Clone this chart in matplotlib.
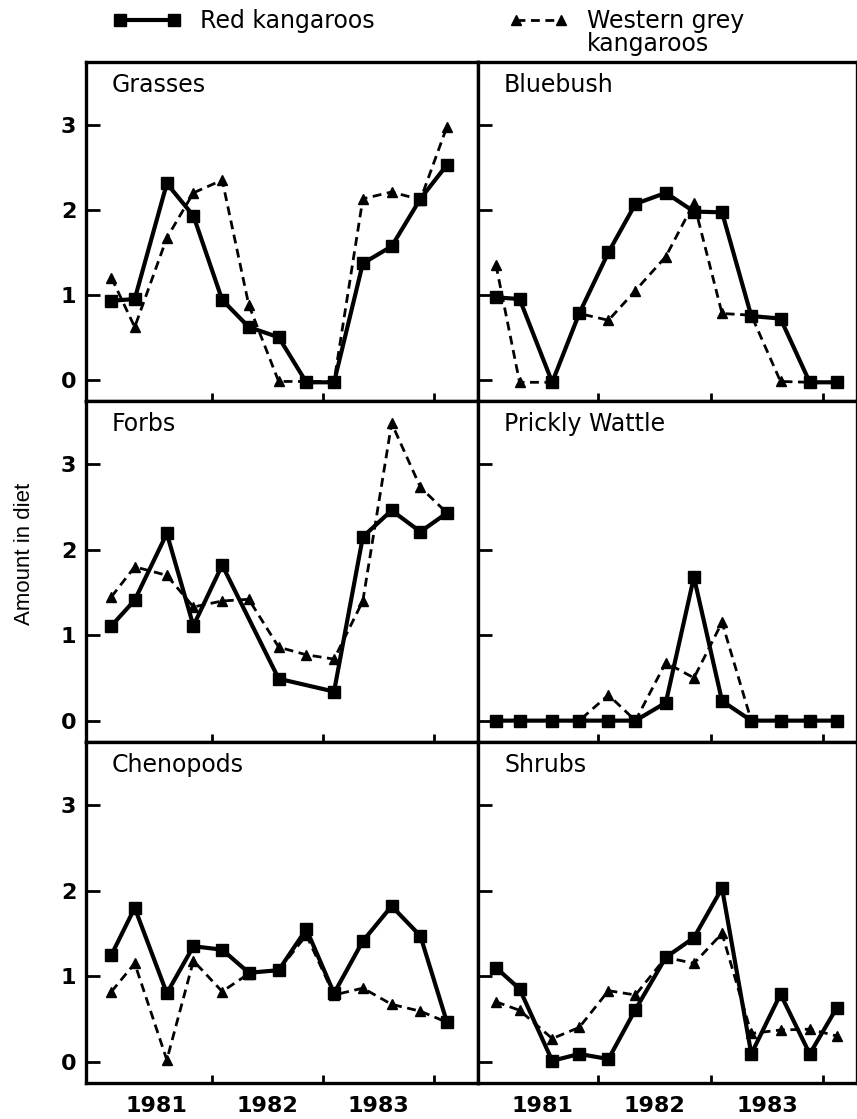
import numpy as np
import matplotlib
matplotlib.use("Agg")
import matplotlib.pyplot as plt
from matplotlib.ticker import FixedLocator, FixedFormatter, NullFormatter

plt.rcParams["font.family"] = ["DejaVu Sans"]

# sampling dates (decimal year), shared by all panels
dates = [1981.09, 1981.30, 1981.59, 1981.83, 1982.09, 1982.33, 1982.60,
         1982.85, 1983.10, 1983.36, 1983.62, 1983.88, 1984.12]
nan = np.nan

grasses_red = [0.93, 0.95, 2.31, 1.93, 0.94, 0.62, 0.50, -0.03, -0.03, 1.37, 1.57, 2.13, 2.53]
grasses_grey = [1.20, 0.62, 1.67, 2.20, 2.35, 0.88, -0.02, -0.02, -0.02, 2.13, 2.21, 2.12, 2.98]

bluebush_red = [0.97, 0.95, -0.03, 0.78, 1.50, 2.07, 2.20, 1.98, 1.97, 0.75, 0.72, -0.03, -0.03]
bluebush_grey = [1.35, -0.03, -0.03, 0.78, 0.70, 1.05, 1.45, 2.08, 0.78, 0.76, -0.02, -0.03, -0.03]

forbs_red = [1.11, 1.41, 2.19, 1.11, 1.82, nan, 0.49, nan, 0.34, 2.15, 2.46, 2.21, 2.43]
forbs_grey = [1.45, 1.80, 1.70, 1.33, 1.40, 1.42, 0.86, 0.77, 0.72, 1.40, 3.48, 2.73, 2.43]

wattle_red = [0, 0, 0, 0, 0, 0, 0.21, 1.68, 0.23, 0, 0, 0, 0]
wattle_grey = [0, 0, 0, 0, 0.30, 0, 0.68, 0.50, 1.15, 0, 0, 0, 0]

cheno_red = [1.25, 1.80, 0.80, 1.35, 1.31, 1.04, 1.07, 1.55, 0.80, 1.41, 1.82, 1.47, 0.46]
cheno_grey = [0.82, 1.15, 0.02, 1.18, 0.82, 1.03, 1.07, 1.48, 0.78, 0.86, 0.67, 0.59, 0.46]

shrubs_red = [1.10, 0.85, 0.01, 0.09, 0.03, 0.61, 1.22, 1.45, 2.03, 0.09, 0.79, 0.09, 0.63]
shrubs_grey = [0.70, 0.60, 0.27, 0.40, 0.83, 0.78, 1.22, 1.15, 1.50, 0.33, 0.37, 0.38, 0.30]

panel_names = ["Grasses", "Bluebush", "Forbs", "Prickly Wattle", "Chenopods", "Shrubs"]
red_series = [grasses_red, bluebush_red, forbs_red, wattle_red, cheno_red, shrubs_red]
grey_series = [grasses_grey, bluebush_grey, forbs_grey, wattle_grey, cheno_grey, shrubs_grey]

year_ticks = [1982, 1983, 1984]
year_label_pos = [1981.5, 1982.5, 1983.5]
year_labels = ["1981", "1982", "1983"]
y_ticks = [0, 1, 2, 3]

W, H = 857, 1119
fig = plt.figure(figsize=(W / 100, H / 100), dpi=100)

cols = [(86, 478), (478, 857)]           # pixel extents of the two columns
rows = [(62, 401), (401, 742), (742, 1083)]
xlims = [(1980.86, 1984.40), (1980.93, 1984.30)]

x = np.array(dates)
red_line = grey_line = None
for i, name in enumerate(panel_names):
    r, c = divmod(i, 2)
    x0, x1 = cols[c]
    y0, y1 = rows[r]
    ax = fig.add_axes([x0 / W, 1 - y1 / H, (x1 - x0) / W, (y1 - y0) / H])

    g = np.array(grey_series[i], dtype=float)
    m = ~np.isnan(g)
    grey_line, = ax.plot(x[m], g[m], color="black", ls=(0, (3.2, 2.0)), lw=2.0,
                         marker="^", ms=7.5, zorder=2)
    rd = np.array(red_series[i], dtype=float)
    m = ~np.isnan(rd)
    red_line, = ax.plot(x[m], rd[m], color="black", ls="-", lw=3.0,
                        marker="s", ms=8, zorder=3)

    ax.set_xlim(*xlims[c])
    ax.set_ylim(-0.25, 3.74)
    for sp in ax.spines.values():
        sp.set_linewidth(2.4)

    ax.yaxis.set_major_locator(FixedLocator(y_ticks))
    ax.tick_params(axis="y", which="major", direction="in", length=10, width=2,
                   pad=7, labelsize=16, labelleft=(c == 0))
    for lab in ax.get_yticklabels():
        lab.set_fontweight("bold")

    ax.xaxis.set_major_locator(FixedLocator(year_ticks))
    ax.xaxis.set_major_formatter(NullFormatter())
    ax.xaxis.set_minor_locator(FixedLocator(year_label_pos))
    if r == 2:
        ax.xaxis.set_minor_formatter(FixedFormatter(year_labels))
    else:
        ax.xaxis.set_minor_formatter(NullFormatter())
    ax.tick_params(axis="x", which="major", direction="in", length=6, width=2)
    ax.tick_params(axis="x", which="minor", length=0, pad=9, labelsize=16)
    for lab in ax.xaxis.get_minorticklabels():
        lab.set_fontweight("bold")

    ax.text(26 / (x1 - x0), 1 - 11 / (y1 - y0), name, transform=ax.transAxes,
            ha="left", va="top", fontsize=17)

# legend keys at the top
fig.legend([red_line], ["Red kangaroos"], loc="center left",
           bbox_to_anchor=(113 / W, 1 - 21 / H), frameon=False, borderpad=0,
           borderaxespad=0, handlelength=2.9, handletextpad=0.8, numpoints=2,
           fontsize=17)
fig.legend([grey_line], ["Western grey"], loc="center left",
           bbox_to_anchor=(509 / W, 1 - 21 / H), frameon=False, borderpad=0,
           borderaxespad=0, handlelength=2.5, handletextpad=0.8, numpoints=2,
           fontsize=17)
fig.text(587 / W, 1 - 44 / H, "kangaroos", ha="left", va="center", fontsize=17)

fig.text(25 / W, 1 - 554 / H, "Amount in diet", rotation=90, ha="center",
         va="center", fontsize=16,
         family=["Liberation Sans Narrow", "Liberation Sans", "DejaVu Sans"])

fig.savefig("out.png", dpi=100)
